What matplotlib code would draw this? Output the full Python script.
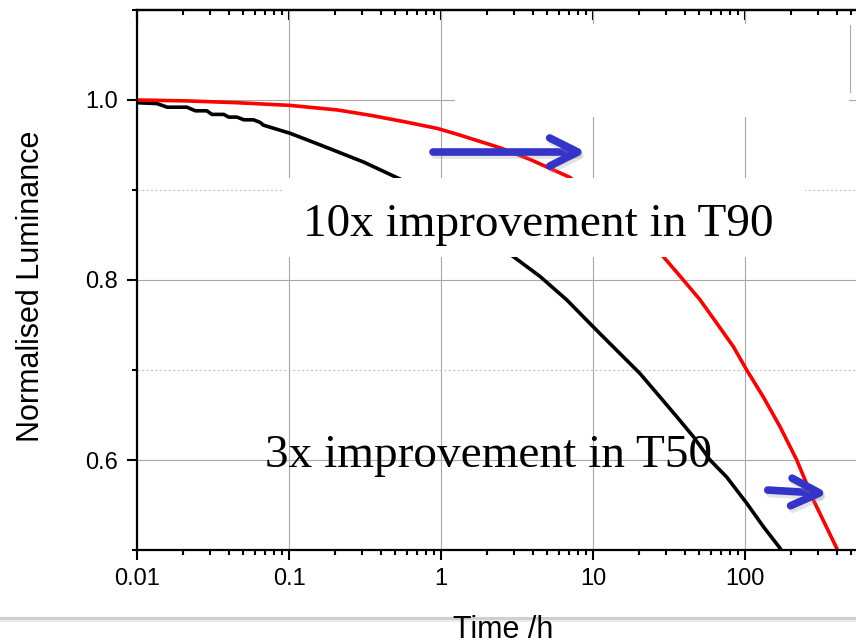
import matplotlib
matplotlib.use("Agg")
import matplotlib.pyplot as plt
import matplotlib.patheffects as pe
from matplotlib.patches import Rectangle
from matplotlib.lines import Line2D
from matplotlib.ticker import MultipleLocator, FixedLocator, FixedFormatter

# black: reference device, red: improved device
t_ref = [0.01, 0.01355, 0.0158, 0.0213, 0.0242, 0.0288, 0.0311, 0.0372, 0.0401,
         0.0455, 0.0504, 0.0585, 0.0647, 0.068, 0.1017, 0.161, 0.310, 0.540,
         2.99, 4.48, 6.71, 10.3, 14.3, 20.4, 27.6, 35.6, 45.7, 58.9, 75.8,
         102.6, 132, 170]
l_ref = [0.997, 0.996, 0.992, 0.992, 0.988, 0.988, 0.984, 0.984, 0.981,
         0.981, 0.978, 0.978, 0.975, 0.972, 0.963, 0.950, 0.931, 0.912,
         0.826, 0.804, 0.778, 0.746, 0.722, 0.696, 0.670, 0.648, 0.626, 0.600, 0.581,
         0.552, 0.526, 0.502]

t_new = [0.01, 0.0213, 0.0455, 0.1017, 0.207, 0.343, 0.569, 0.942, 1.274,
         2.44, 3.85, 7.06,
         29.0, 39.3, 50.6, 65.2, 83.8, 102.6, 132, 170, 219, 281, 401]
l_new = [1.0, 0.999, 0.997, 0.994, 0.989, 0.983, 0.976, 0.9685, 0.962,
         0.947, 0.934, 0.914,
         0.826, 0.800, 0.778, 0.752, 0.726, 0.700, 0.670, 0.637, 0.600, 0.556, 0.502]

xticks = [0.01, 0.1, 1, 10, 100]
xlabels = ["0.01", "0.1", "1", "10", "100"]
yticks = [0.6, 0.8, 1.0]
ylabels = ["0.6", "0.8", "1.0"]

plt.rcParams['font.family'] = ['Liberation Sans', 'DejaVu Sans']

fig = plt.figure(figsize=(8.56, 6.4), dpi=100)
ax = fig.add_axes([137/856, 90/640, 760/856, 540/640])

ax.plot(t_ref, l_ref, color='black', lw=2.6, zorder=2)
ax.plot(t_new, l_new, color='#ff0000', lw=2.6, zorder=2)

ax.set_xscale('log')
ax.set_xlim(0.01, 1000)
ax.set_ylim(0.5, 1.1)
ax.xaxis.set_major_locator(FixedLocator(xticks))
ax.xaxis.set_major_formatter(FixedFormatter(xlabels))
ax.yaxis.set_major_locator(FixedLocator(yticks))
ax.yaxis.set_major_formatter(FixedFormatter(ylabels))
ax.yaxis.set_minor_locator(MultipleLocator(0.1))

ax.grid(True, which='major', color='#a8a8a8', lw=0.8)
ax.grid(True, which='minor', axis='y', color='#c4c4c4', lw=0.8, ls=(0, (2, 2)))

ax.tick_params(which='major', direction='out', length=7, width=1.5, labelsize=17)
ax.tick_params(which='minor', direction='out', length=3.6, width=1.5)
ax.tick_params(axis='x', pad=6)
ax.tick_params(axis='y', pad=7)
for s in ['left', 'bottom', 'top']:
    ax.spines[s].set_linewidth(1.6)
ax.spines['right'].set_visible(False)

sec = ax.secondary_xaxis('top')
sec.xaxis.set_major_locator(FixedLocator(xticks))
sec.tick_params(which='major', direction='in', length=7, width=1.5, labeltop=False)
sec.tick_params(which='minor', direction='in', length=3.6, width=1.5)
sec.spines['top'].set_linewidth(1.6)

ax.set_ylabel('Normalised Luminance', fontsize=22)
ax.yaxis.label.set_verticalalignment('center')
ax.yaxis.set_label_coords(-0.1395, 0.488)
ax.set_xlabel('Time /h', fontsize=22)
ax.xaxis.label.set_verticalalignment('baseline')
ax.xaxis.set_label_coords(0.482, -0.163)

# white cover boxes
ax.add_patch(Rectangle((0.418, 0.802), 0.519, 0.172, transform=ax.transAxes,
                       facecolor='white', edgecolor='none', zorder=3))
ax.add_patch(Rectangle((0.191, 0.5426), 0.688, 0.1464, transform=ax.transAxes,
                       facecolor='white', edgecolor='none', zorder=3))
ax.plot([0.938, 0.938], [0.848, 0.972], transform=ax.transAxes,
        color='#a8a8a8', lw=0.8, zorder=3)

ax.text(0.1236, 0.849, '10x improvement in T90', fontsize=34,
        family='Liberation Serif', ha='left', va='baseline', zorder=4)
ax.text(0.0695, 0.592, '3x improvement in T50', fontsize=34,
        family='Liberation Serif', ha='left', va='baseline', zorder=4)

# blue arrows
blue = '#3434c8'
shadow = [pe.SimpleLineShadow(offset=(1.5, -2.5), shadow_color='#909090', alpha=0.25),
          pe.Normal()]
arrows = [
    ([0.3895, 0.578], [0.737, 0.737], [0.543, 0.580, 0.543], [0.763, 0.737, 0.711]),
    ([0.830, 0.896], [0.111, 0.1056], [0.862, 0.898, 0.860], [0.133, 0.1056, 0.082]),
]
for sx, sy, hx, hy in arrows:
    for xs, ys in [(sx, sy), (hx, hy)]:
        ax.plot(xs, ys, transform=ax.transAxes, color=blue, lw=5.5,
                solid_capstyle='round', solid_joinstyle='round',
                path_effects=shadow, zorder=5, clip_on=False)

# slide divider line behind the x label
fig.add_artist(Line2D([0, 1], [0.034, 0.034], transform=fig.transFigure,
                      color='#cfcfcf', lw=2.2, zorder=0))
fig.add_artist(Line2D([0, 1], [0.030, 0.030], transform=fig.transFigure,
                      color='#ececec', lw=1.5, zorder=0))

fig.savefig('out.png', dpi=100)
